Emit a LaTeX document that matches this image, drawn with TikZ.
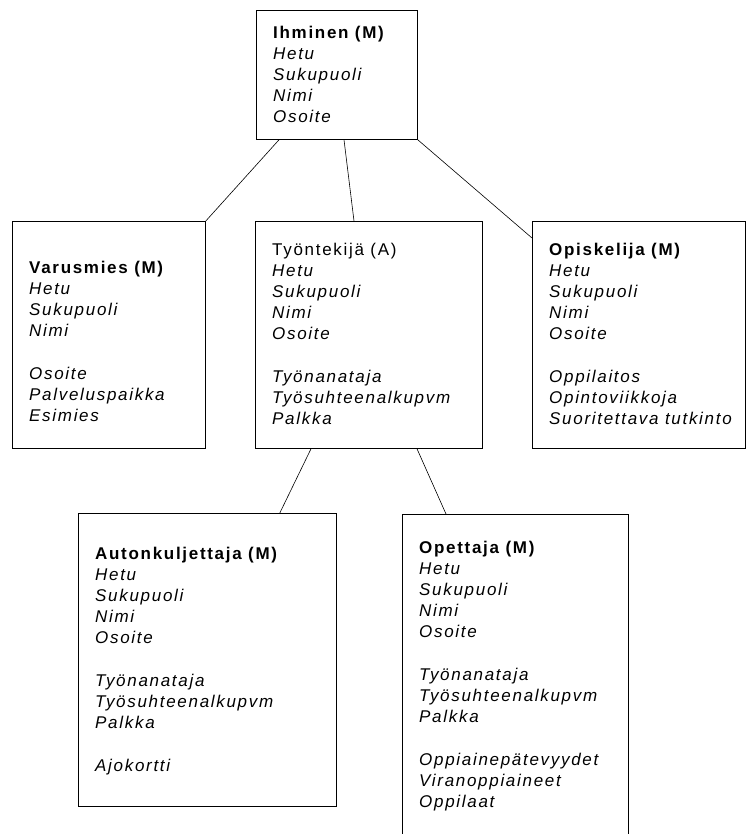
\documentclass[tikz,border=0pt]{standalone}
\usepackage{fontspec}
\setmainfont{Liberation Sans}[LetterSpace=10]
\begin{document}
\begin{tikzpicture}[
    x=1pt, y=-1pt,
    entity/.style={rectangle, draw, line width=0.8pt, inner sep=0pt, anchor=north west},
    attrs/.style={align=left, anchor=north west, inner sep=0pt, font=\fontsize{17}{21.2}\selectfont},
    link/.style={line width=0.6pt}
]
    \clip (0,0) rectangle (747,834);

    % Entity boxes
    \node[entity, minimum width=161pt, minimum height=129pt] (ihminen) at (256,10) {};
    \node[entity, minimum width=193pt, minimum height=227pt] (varusmies) at (12,221) {};
    \node[entity, minimum width=227pt, minimum height=227pt] (tyontekija) at (255,221) {};
    \node[entity, minimum width=213pt, minimum height=227pt] (opiskelija) at (532,221) {};
    \node[entity, minimum width=258pt, minimum height=293pt] (autonkuljettaja) at (78,513) {};
    \node[entity, minimum width=226pt, minimum height=340pt] (opettaja) at (402,514) {};

    % Attribute lists
    \node[attrs] (ihminen-txt) at ([shift={(17,15.6)}]ihminen.north west) {%
        \textbf{Ihminen (M)}\\ \textit{Hetu}\\ \textit{Sukupuoli}\\ \textit{Nimi}\\ \textit{Osoite}};
    \node[attrs] (varusmies-txt) at ([shift={(17,39.6)}]varusmies.north west) {%
        \textbf{Varusmies (M)}\\ \textit{Hetu}\\ \textit{Sukupuoli}\\ \textit{Nimi}\\[21.2pt]
        \textit{Osoite}\\ \textit{Palveluspaikka}\\ \textit{Esimies}};
    \node[attrs] (tyontekija-txt) at ([shift={(17,21.6)}]tyontekija.north west) {%
        Työntekijä (A)\\ \textit{Hetu}\\ \textit{Sukupuoli}\\ \textit{Nimi}\\ \textit{Osoite}\\[21.2pt]
        \textit{Työnanataja}\\ \textit{Työsuhteenalkupvm}\\ \textit{Palkka}};
    \node[attrs] (opiskelija-txt) at ([shift={(17,21.6)}]opiskelija.north west) {%
        \textbf{Opiskelija (M)}\\ \textit{Hetu}\\ \textit{Sukupuoli}\\ \textit{Nimi}\\ \textit{Osoite}\\[21.2pt]
        \textit{Oppilaitos}\\ \textit{Opintoviikkoja}\\ \textit{Suoritettava tutkinto}};
    \node[attrs] (autonkuljettaja-txt) at ([shift={(17,33.6)}]autonkuljettaja.north west) {%
        \textbf{Autonkuljettaja (M)}\\ \textit{Hetu}\\ \textit{Sukupuoli}\\ \textit{Nimi}\\ \textit{Osoite}\\[21.2pt]
        \textit{Työnanataja}\\ \textit{Työsuhteenalkupvm}\\ \textit{Palkka}\\[21.2pt]
        \textit{Ajokortti}};
    \node[attrs] (opettaja-txt) at ([shift={(17,26.6)}]opettaja.north west) {%
        \textbf{Opettaja (M)}\\ \textit{Hetu}\\ \textit{Sukupuoli}\\ \textit{Nimi}\\ \textit{Osoite}\\[21.2pt]
        \textit{Työnanataja}\\ \textit{Työsuhteenalkupvm}\\ \textit{Palkka}\\[21.2pt]
        \textit{Oppiainepätevyydet}\\ \textit{Viranoppiaineet}\\ \textit{Oppilaat}};

    % Connectors
    \draw[link] ([xshift=23pt]ihminen.south west) -- (varusmies.north east);
    \draw[link] ([xshift=88pt]ihminen.south west) -- ([xshift=99pt]tyontekija.north west);
    \draw[link] (ihminen.south east) -- ([yshift=-17pt]opiskelija.north west);
    \draw[link] ([xshift=56pt]tyontekija.south west) -- ([xshift=-57pt]autonkuljettaja.north east);
    \draw[link] ([xshift=162pt]tyontekija.south west) -- ([xshift=44pt]opettaja.north west);
\end{tikzpicture}
\end{document}
